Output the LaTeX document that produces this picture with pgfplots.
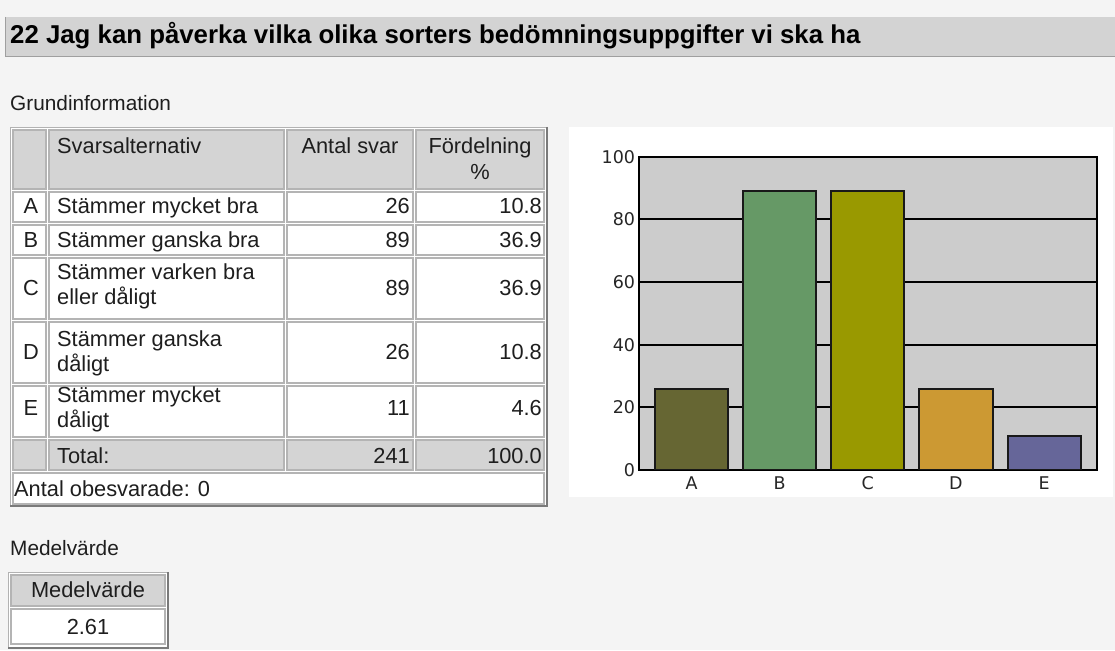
\documentclass[border=0pt]{standalone}
\usepackage{pgfplots}
\pgfplotsset{compat=1.18}
\usepackage{fontspec}
\setmainfont{Liberation Sans}
\newfontfamily\tickfont{DejaVu Sans}
\definecolor{pagebg}{HTML}{F4F4F4}
\definecolor{barbg}{HTML}{D3D3D3}
\definecolor{headbg}{HTML}{D4D4D4}
\definecolor{cellline}{HTML}{B4B4B4}
\definecolor{outerdark}{HTML}{7A7A7A}
\definecolor{txt}{HTML}{1E1E1E}
\definecolor{plotbg}{HTML}{CCCCCC}
\definecolor{cA}{HTML}{666633}
\definecolor{cB}{HTML}{669966}
\definecolor{cC}{HTML}{999900}
\definecolor{cD}{HTML}{CC9933}
\definecolor{cE}{HTML}{666699}
\newcommand{\body}{\fontsize{21.8}{25}\selectfont}
\newcommand{\cell}[5]{\filldraw[fill=#5, draw=cellline, line width=1.3pt] (#1,650-#2) rectangle (#3,650-#4);}
\newcommand{\tw}[3]{\node[anchor=base west, inner sep=0pt, font=\body, text=txt] at (#1,650-#2) {#3};}
\newcommand{\te}[3]{\node[anchor=base east, inner sep=0pt, font=\body, text=txt] at (#1,650-#2) {#3};}
\newcommand{\tc}[3]{\node[anchor=base, inner sep=0pt, font=\body, text=txt] at (#1,650-#2) {#3};}
\begin{document}
\begin{tikzpicture}[x=1pt,y=1pt]
\useasboundingbox (0,0) rectangle (1115,650);
\fill[pagebg] (0,0) rectangle (1115,650);
% title bar
\fill[barbg] (5,650-17) rectangle (1115,650-57);
\draw[gray!75, line width=1.5pt] (5,650-56.5) -- (1115,650-56.5);
\draw[gray!75, line width=1.2pt] (5.6,650-17) -- (5.6,650-57);
\node[anchor=base west, inner sep=0pt, font=\fontsize{25.8}{30}\selectfont\bfseries, text=black] at (10,650-44) {22 Jag kan påverka vilka olika sorters bedömningsuppgifter vi ska ha};
% Grundinformation
\node[anchor=base west, inner sep=0pt, font=\fontsize{20.8}{25}\selectfont, text=txt] at (10,650-111) {Grundinformation};
% table outer
\fill[white] (10,650-127) rectangle (547,650-507);
\draw[gray!60, line width=1.2pt] (10.6,650-506) -- (10.6,650-127.6) -- (546,650-127.6);
\draw[outerdark, line width=2pt] (546.5,650-127) -- (546.5,650-506.5) -- (10,650-506.5);
% header
\cell{13}{130}{46}{189}{headbg}
\cell{49}{130}{284}{189}{headbg}
\cell{287}{130}{413}{189}{headbg}
\cell{416}{130}{544}{189}{headbg}
\tw{57}{154}{Svarsalternativ}
\tc{350}{154}{Antal svar}
\tc{480}{154}{Fördelning}
\tc{480}{179.5}{\%}
% rows
\foreach \a/\b in {192/222, 225/255, 258/319, 322/383, 386/437}{
  \cell{13}{\a}{46}{\b}{white}
  \cell{49}{\a}{284}{\b}{white}
  \cell{287}{\a}{413}{\b}{white}
  \cell{416}{\a}{544}{\b}{white}
}
\cell{13}{440}{46}{470}{headbg}
\cell{49}{440}{284}{470}{headbg}
\cell{287}{440}{413}{470}{headbg}
\cell{416}{440}{544}{470}{headbg}
\cell{13}{473}{544}{504}{white}
% row texts
\tc{31}{214}{A}\tw{57}{214}{Stämmer mycket bra}\te{410}{214}{26}\te{542}{214}{10.8}
\tc{31}{248}{B}\tw{57}{248}{Stämmer ganska bra}\te{410}{248}{89}\te{542}{248}{36.9}
\tc{31}{295.5}{C}\tw{57}{279.5}{Stämmer varken bra}\tw{57}{304.5}{eller dåligt}\te{410}{295.5}{89}\te{542}{295.5}{36.9}
\tc{31}{359.5}{D}\tw{57}{346.5}{Stämmer ganska}\tw{57}{371.5}{dåligt}\te{410}{359.5}{26}\te{542}{359.5}{10.8}
\tc{31}{415.5}{E}\tw{57}{402.5}{Stämmer mycket}\tw{57}{427.5}{dåligt}\te{410}{415.5}{11}\te{542}{415.5}{4.6}
\tw{57}{463.5}{Total:}\te{410}{463.5}{241}\te{542}{463.5}{100.0}
\tw{14}{496.5}{Antal obesvarade: 0}
% Medelvarde
\node[anchor=base west, inner sep=0pt, font=\fontsize{20.8}{25}\selectfont, text=txt] at (10,650-556) {Medelvärde};
\fill[white] (8,650-572) rectangle (168,650-648);
\draw[gray!60, line width=1.2pt] (8.6,650-647) -- (8.6,650-572.6) -- (167,650-572.6);
\draw[outerdark, line width=2pt] (167.5,650-572) -- (167.5,650-647.5) -- (8,650-647.5);
\cell{11}{575}{165}{606}{headbg}
\cell{11}{609}{165}{644}{white}
\tc{88}{597.5}{Medelvärde}
\tc{88}{634.5}{2.61}
% chart panel
\fill[white] (569,650-127) rectangle (1113,650-497);
\coordinate (plotorigin) at (638.6,180);
\begin{axis}[
  at={(plotorigin)}, anchor=south west,
  scale only axis, width=458.4pt, height=313.3pt,
  xmin=-0.6, xmax=4.6, ymin=0, ymax=100,
  ytick={0,20,40,60,80,100},
  xtick={0,1,2,3,4}, xticklabels={A,B,C,D,E},
  ymajorgrids, grid style={black, line width=2pt},
  axis background/.style={fill=plotbg},
  axis line style={black, line width=2.2pt},
  major tick length=0pt,
  tick style={draw=none},
  ticklabel style={font=\tickfont\fontsize{17.5}{20}\selectfont, text=black!85},
  /pgf/number format/assume math mode=true,
  yticklabel style={xshift=0pt},
  xticklabel style={yshift=-3pt},
]
\addplot[ybar, bar width=0.83, bar shift=0pt, fill=cA, draw=black!90, line width=2pt] coordinates {(0,26)};
\addplot[ybar, bar width=0.83, bar shift=0pt, fill=cB, draw=black!90, line width=2pt] coordinates {(1,89)};
\addplot[ybar, bar width=0.83, bar shift=0pt, fill=cC, draw=black!90, line width=2pt] coordinates {(2,89)};
\addplot[ybar, bar width=0.83, bar shift=0pt, fill=cD, draw=black!90, line width=2pt] coordinates {(3,26)};
\addplot[ybar, bar width=0.83, bar shift=0pt, fill=cE, draw=black!90, line width=2pt] coordinates {(4,11)};
\end{axis}
\end{tikzpicture}
\end{document}
